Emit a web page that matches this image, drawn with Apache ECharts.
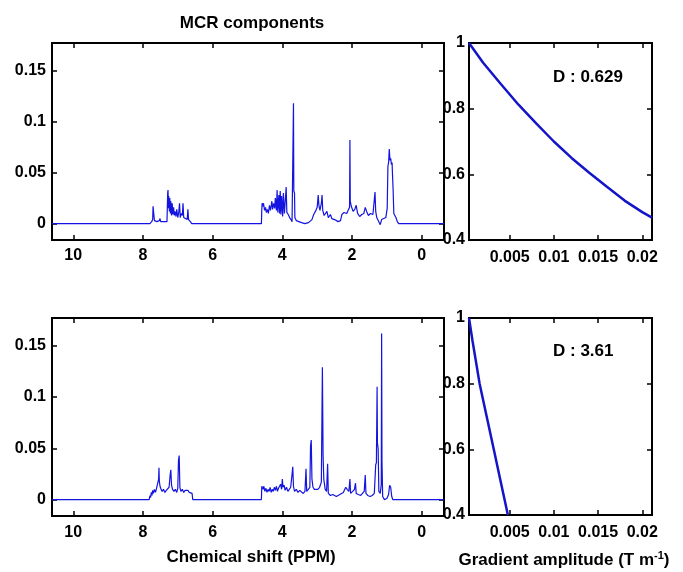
<!DOCTYPE html>
<html>
<head>
<meta charset="utf-8">
<script src="https://cdn.jsdelivr.net/npm/echarts@6/dist/echarts.min.js"></script>
<style>html,body{margin:0;padding:0;background:#fff}#c{width:683px;height:572px}</style>
</head>
<body>
<div id="c"></div>
<script>
// ---- data ----
const ppmTicks = [0, 2, 4, 6, 8, 10];
const intensityTicks = [0, 0.05, 0.1, 0.15];
const gradTicks = [0.005, 0.01, 0.015, 0.02];
const decayTicks = [0.4, 0.6, 0.8, 1];

// component 1 spectrum: [ppm, intensity]
const spectrumTop = [
  [10.61,0],[7.80,0],[7.75,0.002],[7.72,0.004],[7.71,0.017],[7.69,0.016],[7.67,0.003],[7.60,0.002],
  [7.53,0.003],[7.51,0.005],[7.49,0.002],[7.31,0.002],[7.29,0.03],[7.28,0.033],[7.27,0.015],[7.26,0.027],
  [7.24,0.012],[7.23,0.025],[7.21,0.01],[7.20,0.022],[7.18,0.008],[7.16,0.02],[7.14,0.009],[7.12,0.016],
  [7.10,0.008],[7.08,0.012],[7.05,0.007],[7.03,0.014],[7.00,0.006],[6.97,0.012],[6.95,0.02],[6.93,0.006],
  [6.90,0.01],[6.87,0.008],[6.85,0.02],[6.83,0.006],[6.78,0.005],[6.73,0.004],[6.71,0.014],[6.69,0.004],
  [6.64,0.002],[6.60,0],
  [4.60,0],[4.59,0.013],[4.58,0.02],[4.56,0.017],[4.54,0.02],[4.51,0.013],[4.48,0.016],[4.46,0.011],
  [4.43,0.014],[4.40,0.01],[4.37,0.018],[4.34,0.013],[4.30,0.022],[4.28,0.014],[4.25,0.02],[4.22,0.015],
  [4.20,0.025],[4.17,0.013],[4.15,0.033],[4.13,0.011],[4.10,0.028],[4.08,0.01],[4.06,0.032],[4.04,0.009],
  [4.02,0.027],[3.99,0.007],[3.97,0.03],[3.94,0.01],[3.91,0.025],[3.89,0.036],[3.87,0.011],[3.83,0.009],
  [3.79,0.006],[3.75,0.004],[3.72,0.002],[3.69,0.003],[3.68,0.118],[3.67,0.032],[3.65,0.03],[3.64,0.006],
  [3.60,0.003],[3.55,0.002],[3.45,0.001],[3.35,0],[3.25,0.001],[3.15,0.004],[3.10,0.009],[3.05,0.012],
  [3.00,0.016],[2.97,0.028],[2.95,0.018],[2.92,0.013],[2.88,0.02],[2.86,0.028],[2.84,0.013],[2.80,0.008],
  [2.76,0.007],[2.72,0.012],[2.68,0.006],[2.62,0.009],[2.58,0.005],[2.50,0.004],[2.40,0.002],[2.33,0.003],
  [2.29,0.009],[2.23,0.011],[2.15,0.01],[2.10,0.014],[2.07,0.016],[2.06,0.082],[2.05,0.022],[2.02,0.017],
  [1.97,0.012],[1.92,0.014],[1.88,0.018],[1.84,0.01],[1.78,0.007],[1.72,0.009],[1.66,0.01],[1.62,0.016],
  [1.58,0.012],[1.53,0.008],[1.47,0.01],[1.40,0.009],[1.36,0.01],[1.34,0.031],[1.32,0.012],[1.29,0.006],
  [1.24,0.006],[1.19,-0.001],[1.15,0.004],[1.10,0.005],[1.03,0.006],[0.99,0.015],[0.97,0.056],[0.95,0.06],
  [0.93,0.073],[0.91,0.062],[0.89,0.064],[0.87,0.058],[0.85,0.06],[0.84,0.05],[0.82,0.033],[0.80,0.01],
  [0.77,0.008],[0.74,0.006],[0.70,0.002],[0.66,0],[-0.64,0]
];

// component 2 spectrum: [ppm, intensity]
const spectrumBottom = [
  [10.61,0],[7.82,0],[7.80,0.004],[7.78,0.002],[7.76,0.007],[7.74,0.004],[7.72,0.009],[7.70,0.006],
  [7.67,0.01],[7.64,0.007],[7.61,0.011],[7.58,0.012],[7.55,0.02],[7.54,0.031],[7.53,0.018],[7.51,0.013],
  [7.48,0.01],[7.45,0.008],[7.41,0.01],[7.37,0.007],[7.33,0.009],[7.29,0.008],[7.25,0.012],[7.22,0.024],
  [7.20,0.029],[7.18,0.014],[7.15,0.01],[7.11,0.008],[7.07,0.01],[7.03,0.007],[7.00,0.011],[6.98,0.038],
  [6.96,0.043],[6.94,0.012],[6.91,0.008],[6.87,0.01],[6.83,0.007],[6.79,0.009],[6.75,0.008],[6.71,0.009],
  [6.67,0.007],[6.63,0.008],[6.59,0.006],[6.57,0],
  [4.60,0],[4.59,0.013],[4.57,0.014],[4.55,0.01],[4.53,0.013],[4.50,0.008],[4.47,0.011],[4.44,0.007],
  [4.41,0.01],[4.38,0.008],[4.35,0.012],[4.32,0.007],[4.29,0.01],[4.26,0.008],[4.23,0.012],[4.20,0.009],
  [4.17,0.013],[4.14,0.008],[4.11,0.011],[4.08,0.01],[4.05,0.015],[4.02,0.01],[4.00,0.02],[3.98,0.012],
  [3.95,0.014],[3.92,0.009],[3.88,0.012],[3.84,0.008],[3.80,0.01],[3.76,0.012],[3.72,0.025],[3.70,0.032],
  [3.68,0.013],[3.65,0.008],[3.60,0.01],[3.55,0.007],[3.50,0.009],[3.45,0.008],[3.40,0.006],[3.35,0.008],
  [3.32,0.03],[3.30,0.008],[3.25,0.007],[3.21,0.012],[3.19,0.052],[3.17,0.058],[3.15,0.02],[3.12,0.012],
  [3.08,0.01],[3.03,0.009],[2.98,0.01],[2.93,0.012],[2.88,0.017],[2.85,0.129],[2.83,0.043],[2.81,0.02],
  [2.77,0.01],[2.73,0.008],[2.70,0.035],[2.68,0.006],[2.62,0.004],[2.55,0.005],[2.45,0.003],[2.35,0.005],
  [2.25,0.007],[2.18,0.012],[2.14,0.01],[2.09,0.008],[2.06,0.02],[2.04,0.006],[1.98,0.008],[1.93,0.01],
  [1.90,0.016],[1.88,0.006],[1.82,0.005],[1.75,0.004],[1.70,0.006],[1.65,0.008],[1.62,0.024],[1.60,0.006],
  [1.55,0.004],[1.48,0.003],[1.42,0.004],[1.36,0.006],[1.32,0.034],[1.30,0.036],[1.28,0.11],[1.27,0.055],
  [1.25,0.05],[1.23,0.008],[1.19,0.006],[1.16,0.015],[1.15,0.162],[1.14,0.038],[1.12,0.003],[1.07,0],
  [1.00,0.001],[0.95,0.005],[0.92,0.014],[0.89,0.012],[0.86,0.003],[0.83,0],[-0.64,0]
];

// decay profiles: [gradient amplitude, relative intensity]
const decayTop = [
  [0.0004,1],[0.002,0.94],[0.004,0.875],[0.006,0.812],[0.008,0.755],[0.010,0.70],[0.012,0.65],
  [0.014,0.605],[0.016,0.562],[0.018,0.52],[0.020,0.485],[0.0211,0.468]
];
const decayBottom = [
  [0.0004,1],[0.0008,0.93],[0.0012,0.865],[0.0016,0.80],[0.0024,0.70],[0.0032,0.60],[0.0040,0.50],[0.0048,0.40]
];
const dTop = 'D : 0.629';
const dBottom = 'D : 3.61';

// ---- chart ----
const FONT = '"Liberation Sans", Arial, Helvetica, sans-serif';
const lbl = { color: '#000', fontFamily: FONT, fontWeight: 'bold', fontSize: 16 };
const tickStyle = { color: '#000', width: 1.5 };

const grids = [
  { left: 52, top: 43, width: 392, height: 197 },
  { left: 469, top: 43, width: 183, height: 197 },
  { left: 52, top: 318, width: 392, height: 198 },
  { left: 469, top: 318, width: 183, height: 197 }
].map(g => Object.assign(g, { show: true, borderColor: '#000', borderWidth: 2, backgroundColor: '#fff', containLabel: false }));

function xAx(gi, min, max, ticks, inverse, pos, showLabel, margin) {
  return {
    type: 'value', gridIndex: gi, min: min, max: max, inverse: inverse, position: pos,
    splitLine: { show: false }, axisLine: { show: false, onZero: false },
    axisTick: { show: true, inside: true, length: 5, lineStyle: tickStyle, customValues: ticks },
    axisLabel: Object.assign({ show: showLabel, margin: margin, customValues: ticks, showMinLabel: true, showMaxLabel: true,
      formatter: v => String(v) }, lbl)
  };
}
function yAx(gi, min, max, ticks, pos, showLabel, margin) {
  return {
    type: 'value', gridIndex: gi, min: min, max: max, position: pos,
    splitLine: { show: false }, axisLine: { show: false, onZero: false },
    axisTick: { show: true, inside: true, length: 5, lineStyle: tickStyle, customValues: ticks },
    axisLabel: Object.assign({ show: showLabel, margin: margin, customValues: ticks, showMinLabel: true, showMaxLabel: true,
      formatter: v => String(v) }, lbl)
  };
}

const ppmMin = -0.64, ppmMax = 10.61, iMin = -0.016, iMax = 0.177;
const gMin = 0.0004, gMax = 0.0211, dMin = 0.4, dMax = 1;

const xAxes = [
  xAx(0, ppmMin, ppmMax, ppmTicks, true, 'bottom', true, 8),
  xAx(1, gMin, gMax, gradTicks, false, 'bottom', true, 10),
  xAx(2, ppmMin, ppmMax, ppmTicks, true, 'bottom', true, 9),
  xAx(3, gMin, gMax, gradTicks, false, 'bottom', true, 10),
  xAx(0, ppmMin, ppmMax, ppmTicks, true, 'top', false, 8),
  xAx(1, gMin, gMax, gradTicks, false, 'top', false, 8),
  xAx(2, ppmMin, ppmMax, ppmTicks, true, 'top', false, 8),
  xAx(3, gMin, gMax, gradTicks, false, 'top', false, 8)
];
const yAxes = [
  yAx(0, iMin, iMax, intensityTicks, 'left', true, 6),
  yAx(1, dMin, dMax, decayTicks, 'left', true, 4),
  yAx(2, iMin, iMax, intensityTicks, 'left', true, 6),
  yAx(3, dMin, dMax, decayTicks, 'left', true, 4),
  yAx(0, iMin, iMax, intensityTicks, 'right', false, 6),
  yAx(1, dMin, dMax, decayTicks, 'right', false, 6),
  yAx(2, iMin, iMax, intensityTicks, 'right', false, 6),
  yAx(3, dMin, dMax, decayTicks, 'right', false, 6)
];

function lineSeries(data, xi, yi, color, width) {
  return { type: 'line', data: data, xAxisIndex: xi, yAxisIndex: yi, showSymbol: false, symbol: 'none',
    clip: true, silent: true, lineStyle: { color: color, width: width }, z: 3 };
}

const textStyleBase = { fill: '#000', fontFamily: FONT, fontWeight: 'bold' };

const option = {
  animation: false,
  backgroundColor: '#fff',
  grid: grids,
  xAxis: xAxes,
  yAxis: yAxes,
  series: [
    lineSeries(spectrumTop, 0, 0, '#1414e0', 1.2),
    lineSeries(decayTop, 1, 1, '#1414c8', 2.5),
    lineSeries(spectrumBottom, 2, 2, '#1414e0', 1.2),
    lineSeries(decayBottom, 3, 3, '#1414c8', 2.5)
  ],
  graphic: [
    { type: 'text', style: Object.assign({ text: 'MCR components', fontSize: 17, x: 252, y: 23, textAlign: 'center', textVerticalAlign: 'middle' }, textStyleBase) },
    { type: 'text', style: Object.assign({ text: dTop, fontSize: 17, x: 553, y: 77, textAlign: 'left', textVerticalAlign: 'middle' }, textStyleBase) },
    { type: 'text', style: Object.assign({ text: dBottom, fontSize: 17, x: 553, y: 351, textAlign: 'left', textVerticalAlign: 'middle' }, textStyleBase) },
    { type: 'text', style: Object.assign({ text: 'Chemical shift (PPM)', fontSize: 17, x: 251, y: 557, textAlign: 'center', textVerticalAlign: 'middle' }, textStyleBase) },
    { type: 'text', style: {
        text: 'Gradient amplitude (T m{sup|-1})', x: 564, y: 560, textAlign: 'center', textVerticalAlign: 'middle',
        fill: '#000', fontFamily: FONT, fontWeight: 'bold', fontSize: 17,
        rich: { sup: { fontSize: 11, fontFamily: FONT, fontWeight: 'bold', fill: '#000', verticalAlign: 'top', padding: [0, 0, 8, 0] } }
    } }
  ]
};

const chart = echarts.init(document.getElementById('c'), null, { renderer: 'canvas' });
chart.setOption(option);
</script>
</body>
</html>
